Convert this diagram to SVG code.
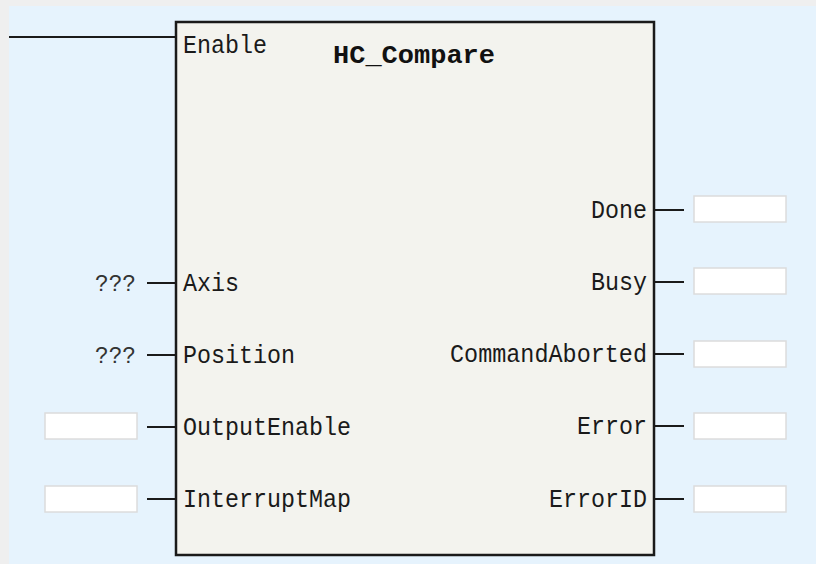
<svg xmlns="http://www.w3.org/2000/svg" width="816" height="564" viewBox="0 0 816 564">
<style>
.lbl{font-family:"Liberation Mono","DejaVu Sans Mono",monospace;font-size:26px;fill:#1a1a1a}
.q{font-family:"Liberation Mono","DejaVu Sans Mono",monospace;font-size:24px;fill:#333}
.title{font-family:"Liberation Mono","DejaVu Sans Mono",monospace;font-size:25px;font-weight:bold;fill:#111}
.wire{stroke:#1a1a1a;stroke-width:2;fill:none}
.var{fill:#ffffff;stroke:#dcdcdc;stroke-width:1.5}
</style>
<rect x="0" y="0" width="816" height="564" fill="#efefef"/>
<rect x="9" y="6" width="807" height="558" fill="#e6f3fd"/>
<g id="connectors">
<line class="wire" x1="9" y1="37" x2="176" y2="37"/>
<line class="wire" x1="147" y1="283" x2="176" y2="283"/>
<line class="wire" x1="147" y1="355" x2="176" y2="355"/>
<line class="wire" x1="147" y1="427" x2="176" y2="427"/>
<line class="wire" x1="147" y1="499" x2="176" y2="499"/>
<line class="wire" x1="654" y1="210" x2="684" y2="210"/>
<line class="wire" x1="654" y1="282" x2="684" y2="282"/>
<line class="wire" x1="654" y1="354" x2="684" y2="354"/>
<line class="wire" x1="654" y1="426" x2="684" y2="426"/>
<line class="wire" x1="654" y1="499" x2="684" y2="499"/>
</g>
<g id="block">
<rect x="176" y="22" width="478" height="533" fill="#f3f3ee" stroke="#1a1a1a" stroke-width="2.5"/>
<text class="title" x="333" y="63" textLength="162" lengthAdjust="spacingAndGlyphs">HC_Compare</text>
<text class="lbl" x="183" y="53" textLength="84" lengthAdjust="spacingAndGlyphs">Enable</text>
<text class="lbl" x="183" y="291" textLength="56" lengthAdjust="spacingAndGlyphs">Axis</text>
<text class="lbl" x="183" y="363" textLength="112" lengthAdjust="spacingAndGlyphs">Position</text>
<text class="lbl" x="183" y="435" textLength="168" lengthAdjust="spacingAndGlyphs">OutputEnable</text>
<text class="lbl" x="183" y="507" textLength="168" lengthAdjust="spacingAndGlyphs">InterruptMap</text>
<text class="lbl" x="591" y="218" textLength="56" lengthAdjust="spacingAndGlyphs">Done</text>
<text class="lbl" x="591" y="290" textLength="56" lengthAdjust="spacingAndGlyphs">Busy</text>
<text class="lbl" x="450" y="362" textLength="197" lengthAdjust="spacingAndGlyphs">CommandAborted</text>
<text class="lbl" x="577" y="434" textLength="70" lengthAdjust="spacingAndGlyphs">Error</text>
<text class="lbl" x="549" y="507" textLength="98" lengthAdjust="spacingAndGlyphs">ErrorID</text>
</g>
<g id="in-axis"><text class="q" x="95" y="291" textLength="41" lengthAdjust="spacingAndGlyphs">???</text></g>
<g id="in-position"><text class="q" x="95" y="363" textLength="41" lengthAdjust="spacingAndGlyphs">???</text></g>
<g id="in-outputenable"><rect class="var" x="45" y="413" width="92" height="26"/></g>
<g id="in-interruptmap"><rect class="var" x="45" y="486" width="92" height="26"/></g>
<g id="out-done"><rect class="var" x="694" y="196" width="92" height="26"/></g>
<g id="out-busy"><rect class="var" x="694" y="268" width="92" height="26"/></g>
<g id="out-commandaborted"><rect class="var" x="694" y="341" width="92" height="26"/></g>
<g id="out-error"><rect class="var" x="694" y="413" width="92" height="26"/></g>
<g id="out-errorid"><rect class="var" x="694" y="486" width="92" height="26"/></g>
</svg>
